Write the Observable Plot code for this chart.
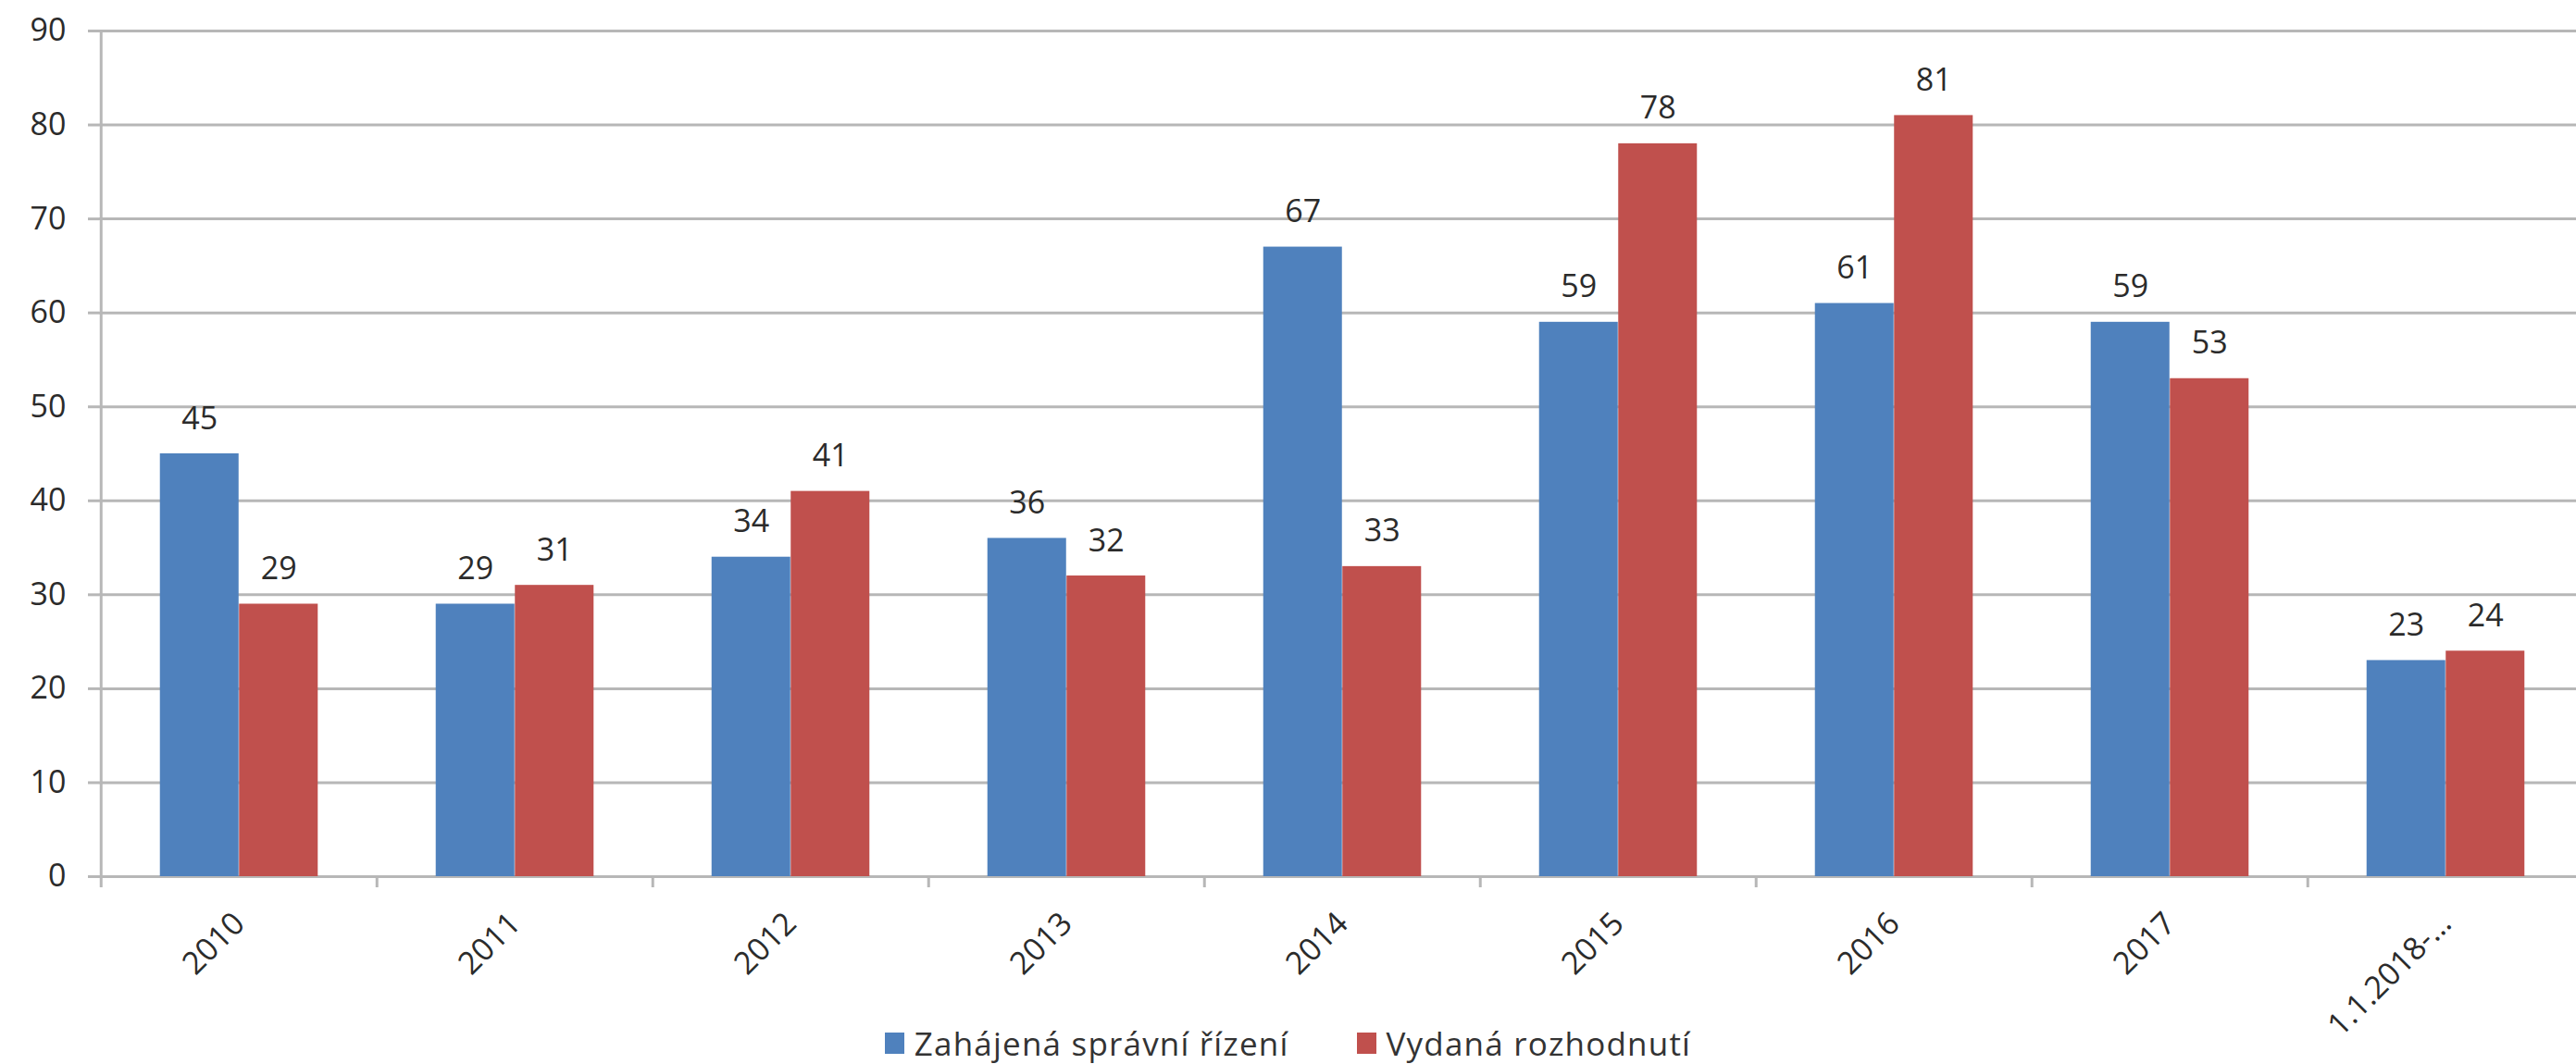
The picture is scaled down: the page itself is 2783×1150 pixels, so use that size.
<!DOCTYPE html>
<html>
<head>
<meta charset="utf-8">
<script src="https://cdn.jsdelivr.net/npm/d3@7"></script>
<script src="https://cdn.jsdelivr.net/npm/@observablehq/plot@0.6"></script>
<style>
  html, body { margin: 0; padding: 0; background: #fff; }
  body { width: 2783px; height: 1150px; overflow: hidden; font-family: "Open Sans", sans-serif; }
  #chart svg { display: block; overflow: visible; }
  #legend { position: relative; height: 60px; display: flex; justify-content: center; align-items: center; padding-top: 14px; box-sizing: border-box; font-size: 35px; letter-spacing: 1.2px; color: #333; }
  .item { display: flex; align-items: center; }
  .item + .item { margin-left: 73px; }
  .sw { width: 21px; height: 23px; margin-right: 11px; }
</style>
</head>
<body>
<div id="chart"></div>
<div id="legend"></div>
<script>
// ---- data ----
const categories = ["2010", "2011", "2012", "2013", "2014", "2015", "2016", "2017", "1.1.2018-…"];
const zahajena = [45, 29, 34, 36, 67, 59, 61, 59, 23];
const vydana   = [29, 31, 41, 32, 33, 78, 81, 53, 24];
const seriesNames = ["Zahájená správní řízení", "Vydaná rozhodnutí"];
const seriesColors = ["#4F81BD", "#C0504D"];
const yTicks = [0, 10, 20, 30, 40, 50, 60, 70, 80, 90];

const rows = categories.flatMap((c, i) => [
  {cat: c, series: seriesNames[0], value: zahajena[i]},
  {cat: c, series: seriesNames[1], value: vydana[i]}
]);
const rowsA = rows.filter(d => d.series === seriesNames[0]);
const rowsB = rows.filter(d => d.series === seriesNames[1]);

// ---- layout ----
const W = 2783, H = 1090;
const mL = 107, mT = 33, mB = 143;
const xRange = [107, 2793.5];              // plot area is cropped on the right in the reference
const step = (xRange[1] - xRange[0]) / categories.length;
const outer = step * 0.2135;               // gap between slot edge and bar group
const half = step / 2;
const barW = half - outer;
const gridColor = "#b7b7b7";
const textColor = "#2b2b2b";
const fs = 34;

const chart = Plot.plot({
  width: W, height: H,
  marginLeft: mL, marginRight: 0, marginTop: mT, marginBottom: mB,
  style: {fontFamily: "'Open Sans', sans-serif", fontSize: fs + "px", color: textColor, background: "#fff", overflow: "visible"},
  x: {domain: categories, range: xRange, padding: 0, axis: null},
  y: {domain: [0, 90], axis: null},
  color: {domain: seriesNames, range: seriesColors},
  marks: [
    Plot.gridY(yTicks, {stroke: gridColor, strokeOpacity: 1, strokeWidth: 3}),
    Plot.axisY(yTicks, {anchor: "left", tickSize: 12, tickPadding: 24, stroke: gridColor, strokeWidth: 3, fontSize: fs, fill: textColor, label: null}),
    // vertical axis line
    Plot.ruleX([categories[0]], {x: d => d, y1: 90, y2: 0, dx: -half, insetBottom: -12, stroke: gridColor, strokeWidth: 3}),
    // category boundary ticks
    Plot.ruleX(categories.slice(1), {x: d => d, y1: 0, y2: 0, dx: -half, insetBottom: -12, stroke: gridColor, strokeWidth: 3}),
    Plot.barY(rowsA, {x: "cat", y: "value", fill: "series", insetLeft: outer, insetRight: half}),
    Plot.barY(rowsB, {x: "cat", y: "value", fill: "series", insetLeft: half, insetRight: outer}),
    Plot.text(rowsA, {x: "cat", y: "value", text: d => String(d.value), dx: -barW / 2, dy: -27, lineAnchor: "bottom", fontSize: fs, fill: textColor}),
    Plot.text(rowsB, {x: "cat", y: "value", text: d => String(d.value), dx: barW / 2, dy: -27, lineAnchor: "bottom", fontSize: fs, fill: textColor}),
    Plot.axisX({anchor: "bottom", tickSize: 0, tickPadding: 45, tickRotate: -45, fontSize: fs, fill: textColor, label: null})
  ]
});
document.getElementById("chart").appendChild(chart);

// ---- legend ----
const legend = document.getElementById("legend");
seriesNames.forEach((name, i) => {
  const item = document.createElement("div");
  item.className = "item";
  const sw = document.createElement("span");
  sw.className = "sw";
  sw.style.background = seriesColors[i];
  const label = document.createElement("span");
  label.textContent = name;
  item.appendChild(sw);
  item.appendChild(label);
  legend.appendChild(item);
});
</script>
</body>
</html>
